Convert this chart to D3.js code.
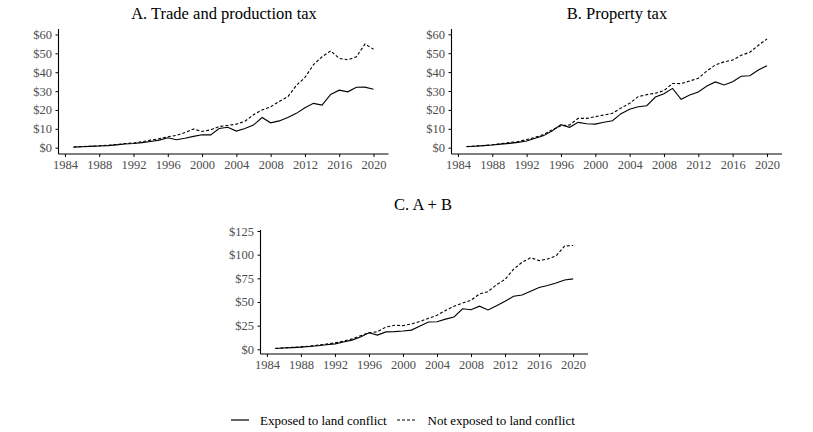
<!DOCTYPE html>
<html><head><meta charset="utf-8">
<script src="https://cdn.jsdelivr.net/npm/d3@7"></script>
<style>
body{margin:0;background:#fff;}
svg{display:block;font-family:"Liberation Serif","Times New Roman",serif;}
</style></head>
<body><svg id="c" width="813" height="432"></svg>
<script>
const years = d3.range(1985, 2021);
const yTicksAB = [0,10,20,30,40,50,60];
const yTicksC = [0,25,50,75,100,125];
const xTicks = [1984,1988,1992,1996,2000,2004,2008,2012,2016,2020];

const tradeExposed = [0.3,0.5,0.7,0.9,1.1,1.5,2.0,2.2,2.7,3.3,4.0,5.3,4.2,5.0,6.0,6.9,6.8,10.2,10.8,8.8,10.2,12.0,16.0,13.2,14.2,16.0,18.2,21.2,23.5,22.6,28.2,30.5,29.6,32.0,32.1,31.0];
const tradeNot = [0.4,0.6,0.8,1.0,1.3,1.7,2.2,2.5,3.2,4.0,4.8,5.8,6.5,8.0,9.9,8.6,9.5,11.2,11.8,12.5,14.0,17.5,20.0,21.7,24.5,27.0,33.0,37.2,44.0,48.2,51.3,47.3,46.6,48.2,54.9,52.2];
const propExposed = [0.5,0.8,1.1,1.4,1.9,2.3,2.8,3.5,5.0,6.4,9.0,12.2,10.8,13.4,12.7,12.5,13.5,14.3,18.0,20.3,21.7,22.2,26.8,28.6,31.4,25.6,27.9,29.5,32.6,34.8,33.2,34.9,37.8,38.1,41.1,43.4];
const propNot = [0.6,0.9,1.2,1.6,2.1,2.7,3.3,4.3,5.5,7.0,9.5,11.6,12.0,15.5,15.5,16.4,17.3,18.2,21.0,23.5,27.0,28.1,28.8,30.2,34.0,33.9,35.3,36.7,40.6,43.8,45.4,46.4,48.9,50.5,54.2,57.5];
const sumExposed = [0.8,1.3,1.8,2.3,3.0,3.8,4.8,5.7,7.7,9.7,13.0,17.5,15.0,18.4,18.7,19.4,20.3,24.5,28.8,29.1,31.9,34.2,42.8,41.8,45.6,41.6,46.1,50.7,56.1,57.4,61.4,65.4,67.4,70.1,73.2,74.4];
const sumNot = [1.0,1.5,2.0,2.6,3.4,4.4,5.5,6.8,8.7,11.0,14.3,17.4,18.5,23.5,25.4,25.0,26.8,29.4,32.8,36.0,41.0,45.6,48.8,51.9,58.5,60.9,68.3,73.9,84.6,92.0,96.7,93.7,95.5,98.7,109.1,109.7];

const svg = d3.select("#c");
const DASH = "3,2";
const FONT = '"Liberation Serif","Times New Roman",serif';

function panel(o){
  const g = svg.append("g");
  const x = d3.scaleLinear().domain([1983.25, 2021.75]).range([o.left, o.right]);
  const y = d3.scaleLinear().domain(o.ydom).range([o.bottom, o.top]);
  g.append("text").attr("x", o.tx).attr("y", o.ty).attr("text-anchor","middle")
    .attr("font-size", 16.5).attr("fill","#000").text(o.title);
  const xa = g.append("g").attr("transform",`translate(0,${o.bottom})`)
    .call(d3.axisBottom(x).tickValues(xTicks).tickFormat(d3.format("d")).tickSize(3).tickPadding(3.5));
  const ya = g.append("g").attr("transform",`translate(${o.left},0)`)
    .call(d3.axisLeft(y).tickValues(o.yticks).tickFormat(d=>"$"+d).tickSize(3).tickPadding(3.5));
  [xa,ya].forEach(a=>{
    a.select(".domain").remove();
    a.selectAll(".tick line").attr("stroke","#000").attr("stroke-width",1);
    a.selectAll(".tick text").attr("fill","#4d4d4d").attr("font-size",12.5).attr("font-family",FONT);
  });
  g.append("line").attr("x1",o.left).attr("x2",o.right).attr("y1",o.bottom).attr("y2",o.bottom)
    .attr("stroke","#000").attr("stroke-width",1.1);
  g.append("line").attr("x1",o.left).attr("x2",o.left).attr("y1",o.top).attr("y2",o.bottom)
    .attr("stroke","#000").attr("stroke-width",1.1);
  const line = d3.line().x((d,i)=>x(years[i])).y(d=>y(d));
  g.append("path").datum(o.not).attr("d",line).attr("fill","none").attr("stroke","#000")
    .attr("stroke-width",1.1).attr("stroke-dasharray",DASH);
  g.append("path").datum(o.exp).attr("d",line).attr("fill","none").attr("stroke","#000")
    .attr("stroke-width",1.1);
}

panel({title:"A. Trade and production tax", tx:224, ty:18.5, left:58.5, right:388.5, top:29, bottom:154,
  ydom:[(147.7-154)/1.887, (147.7-29)/1.887], yticks:yTicksAB, exp:tradeExposed, not:tradeNot});
panel({title:"B. Property tax", tx:617, ty:18.5, left:451.5, right:782, top:29, bottom:154,
  ydom:[(147.7-154)/1.89, (147.7-29)/1.89], yticks:yTicksAB, exp:propExposed, not:propNot});
panel({title:"C. A + B", tx:423, ty:209.5, left:260.5, right:588, top:230, bottom:354,
  ydom:[(349.3-354)/0.9464, (349.3-230)/0.9464], yticks:yTicksC, exp:sumExposed, not:sumNot});

const lg = svg.append("g");
lg.append("line").attr("x1",231).attr("x2",249).attr("y1",420).attr("y2",420).attr("stroke","#000").attr("stroke-width",1.2);
lg.append("text").attr("x",260).attr("y",424.5).attr("font-size",13).text("Exposed to land conflict");
lg.append("line").attr("x1",397).attr("x2",417).attr("y1",420).attr("y2",420).attr("stroke","#000").attr("stroke-width",1.2).attr("stroke-dasharray",DASH);
lg.append("text").attr("x",427.5).attr("y",424.5).attr("font-size",13).text("Not exposed to land conflict");
</script></body></html>
